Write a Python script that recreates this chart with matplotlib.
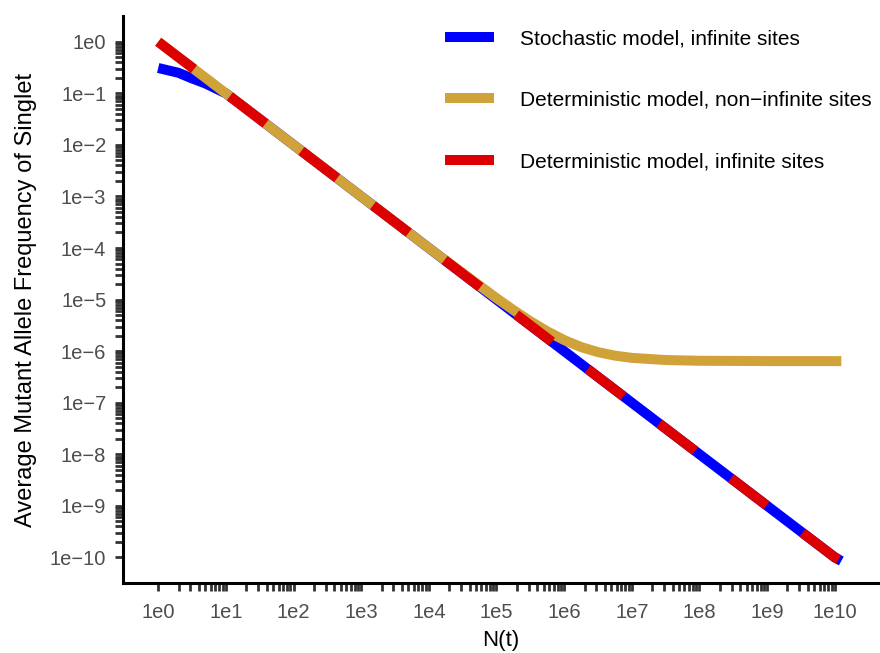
import numpy as np
import matplotlib
matplotlib.use("Agg")
import matplotlib.pyplot as plt
from matplotlib.ticker import FixedLocator, FuncFormatter, NullFormatter

plt.rcParams['font.family'] = ['Liberation Sans', 'DejaVu Sans']

# === data ===
stoch_n = [1, 2, 3, 5, 1e1, 1e2, 1e3, 1e4, 1e5, 1e6, 1e7, 1e8, 1e9, 1e10, 1.25e10]
stoch_f = [0.31, 0.25, 0.2, 0.155, 0.1, 1e-2, 1e-3, 1e-4, 1e-5, 1e-6, 1e-7, 1e-8, 1e-9, 1e-10, 0.85e-10]

det_nis_n = [1, 1e1, 1e2, 1e3, 1e4, 1e5, 10**5.25, 10**5.5, 10**5.75, 1e6, 10**6.25,
             10**6.5, 10**6.75, 1e7, 10**7.5, 1e8, 1e9, 1e10, 1.25e10]
det_nis_f = [1.0, 0.1, 1e-2, 1e-3, 1e-4, 1.064e-5, 6.26e-6, 3.80e-6, 2.42e-6, 1.64e-6, 1.20e-6,
             9.56e-7, 8.18e-7, 7.4e-7, 6.72e-7, 6.5e-7, 6.41e-7, 6.4e-7, 6.4e-7]

det_is_n = [1, 1e1, 1e2, 1e3, 1e4, 1e5, 1e6, 1e7, 1e8, 1e9, 1e10, 1.25e10]
det_is_f = [1.0, 0.1, 1e-2, 1e-3, 1e-4, 1e-5, 1e-6, 1e-7, 1e-8, 1e-9, 1e-10, 0.85e-10]

x_decades = list(range(0, 11))
y_decades = list(range(-10, 1))

labels = ["Stochastic model, infinite sites",
          "Deterministic model, non\u2212infinite sites",
          "Deterministic model, infinite sites"]
colors = ["#0000FF", "#D0A23A", "#DD0000"]

# === plot ===
fig = plt.figure(figsize=(8.8, 6.53), dpi=100)
ax = fig.add_axes([0.1398, 0.107, 0.858, 0.8685])

lw = 7.2
ax.plot(stoch_n, stoch_f, color=colors[0], lw=lw, solid_capstyle='butt', label=labels[0])
ax.plot(det_nis_n, det_nis_f, color=colors[1], lw=lw, solid_capstyle='butt', label=labels[1])
red, = ax.plot(det_is_n, det_is_f, color=colors[2], lw=lw, dash_capstyle='butt',
               solid_capstyle='butt', label=labels[2])
red.set_dashes([4.5, 4.5])

ax.set_xscale('log')
ax.set_yscale('log')
ax.set_xlim(10**-0.52, 10**10.64)
ax.set_ylim(10**-10.5, 10**0.5)


def minor_positions(decades):
    return [k * 10.0**d for d in decades[:-1] for k in range(2, 10)]


fmt = FuncFormatter(lambda v, p: ("1e%d" % int(round(np.log10(v)))).replace("-", "\u2212"))
ax.xaxis.set_major_locator(FixedLocator([10.0**d for d in x_decades]))
ax.xaxis.set_minor_locator(FixedLocator(minor_positions(x_decades)))
ax.yaxis.set_major_locator(FixedLocator([10.0**d for d in y_decades]))
ax.yaxis.set_minor_locator(FixedLocator(minor_positions(y_decades)))
for axis in (ax.xaxis, ax.yaxis):
    axis.set_major_formatter(fmt)
    axis.set_minor_formatter(NullFormatter())

ax.tick_params(which='both', direction='out', length=6, width=2, color='#333333',
               labelsize=14.5, labelcolor='#4D4D4D')
ax.tick_params(axis='y', which='major', pad=6)
ax.tick_params(axis='x', which='major', pad=8)

for s in ['top', 'right']:
    ax.spines[s].set_visible(False)
for s in ['left', 'bottom']:
    ax.spines[s].set_linewidth(2.2)
    ax.spines[s].set_color('black')

ax.set_xlabel("N(t)", fontsize=16, labelpad=6)
ax.set_ylabel("Average Mutant Allele Frequency of Singlet", fontsize=17, labelpad=9)

leg = ax.legend(loc='upper left', bbox_to_anchor=(0.402, 1.01), frameon=False,
                fontsize=15, handlelength=2.35, handletextpad=1.25, labelspacing=2.05)
for h in leg.get_lines():
    h.set_linestyle('-')
    h.set_linewidth(7.2)
    h.set_solid_capstyle('butt')

fig.savefig("out.png", dpi=100)
